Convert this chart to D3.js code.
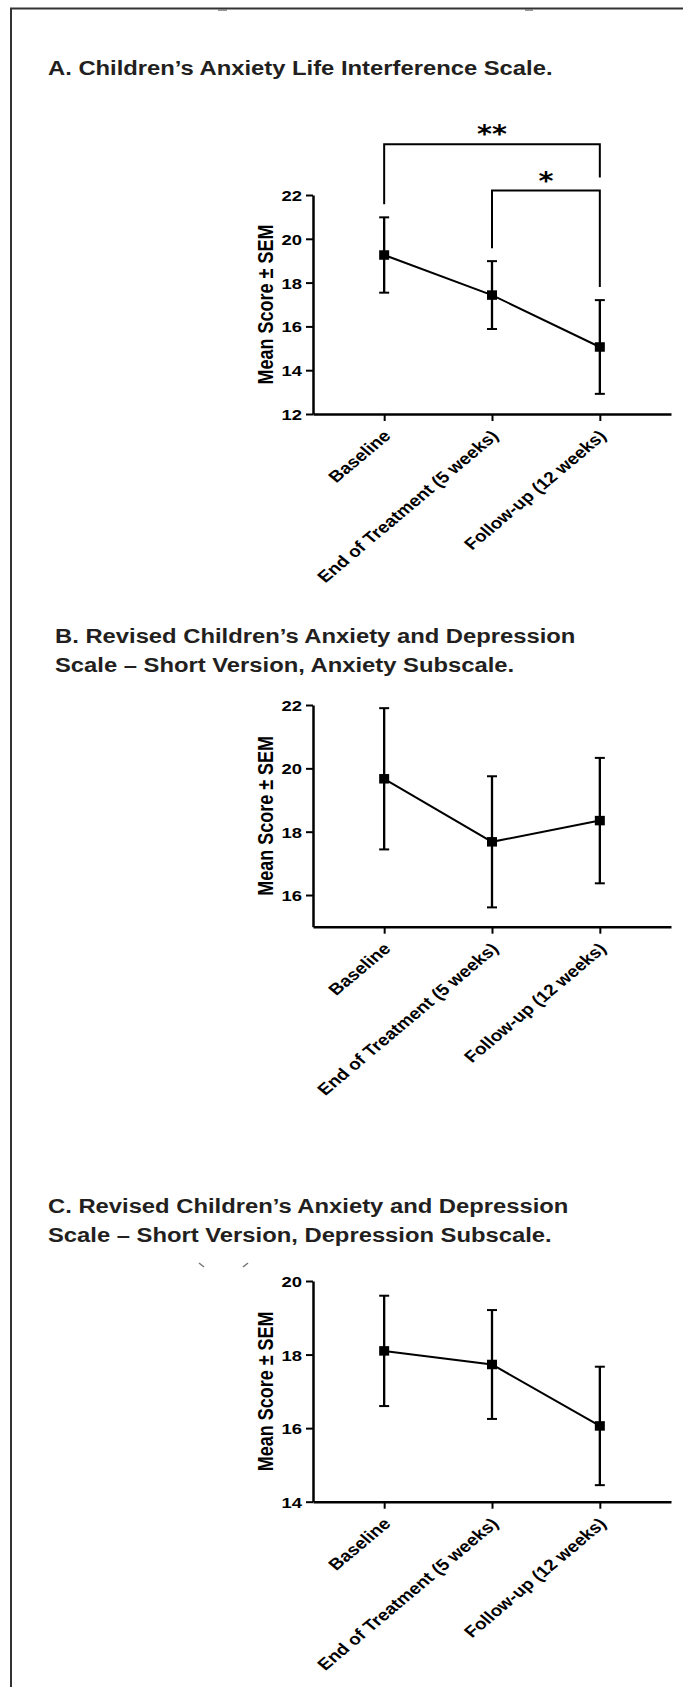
<!DOCTYPE html>
<html>
<head>
<meta charset="utf-8">
<script src="https://cdn.jsdelivr.net/npm/d3@7"></script>
<style>
body { margin: 0; background: #fff; }
svg { display: block; font-family: 'Liberation Sans', Arial, sans-serif; }
.title { font-size: 20px; font-weight: bold; fill: #231f20; }
.axis text { font-size: 15.5px; font-weight: bold; fill: #000; }
.axis .domain { stroke: #000; stroke-width: 2.5; }
.axis .tick line { stroke: #000; stroke-width: 2; }
.ylabel { font-size: 18px; font-weight: bold; fill: #000; }
.star { font-family: 'DejaVu Sans', sans-serif; font-size: 24px; font-weight: bold; fill: #000; }
</style>
</head>
<body>
<script>
// x categories, shared by the three panels
var categories = ['Baseline', 'End of Treatment (5 weeks)', 'Follow-up (12 weeks)']

// A. CALIS
var titleA = ['A. Children\u2019s Anxiety Life Interference Scale.']
var meanA = [19.26, 17.43, 15.06]
var semA = [1.72, 1.55, 2.14]
var ticksA = [12, 14, 16, 18, 20, 22]
var compA = [
	{from: 0, to: 2, level: 24.32, label: '**'},
	{from: 1, to: 2, level: 22.2, label: '*'}
]

// B. RCADS-SV anxiety
var titleB = ['B. Revised Children\u2019s Anxiety and Depression', 'Scale \u2013 Short Version, Anxiety Subscale.']
var meanB = [19.67, 17.68, 18.35]
var semB = [2.23, 2.07, 1.98]
var ticksB = [16, 18, 20, 22]

// C. RCADS-SV depression
var titleC = ['C. Revised Children\u2019s Anxiety and Depression', 'Scale \u2013 Short Version, Depression Subscale.']
var meanC = [18.1, 17.73, 16.06]
var semC = [1.5, 1.48, 1.61]
var ticksC = [14, 16, 18, 20]

var yLabel = 'Mean Score \u00b1 SEM'

// the scanned figure is stretched sideways, text too
var SX = 1.19

var svg = d3.select('body').append('svg')
	.attr('width', 683)
	.attr('height', 1687)

// frame of the page
svg.append('path')
	.attr('d', 'M11,1687V8.5H683')
	.attr('fill', 'none')
	.attr('stroke', '#333')
	.attr('stroke-width', 2)

// leftover bits of cropped text in the scan
svg.append('path')
	.attr('d', 'M218,10H227M525,10H533M199,1263L204,1267M248,1263L243,1267')
	.attr('stroke', '#777')
	.attr('stroke-width', 1.6)

var panels = [
	{title: titleA, titleX: 48, titleY: 75, mean: meanA, sem: semA, ticks: ticksA, domain: [12, 22], top: 195, bottom: 414, comps: compA},
	{title: titleB, titleX: 55, titleY: 642.5, mean: meanB, sem: semB, ticks: ticksB, domain: [15, 22], top: 705, bottom: 926.7, comps: []},
	{title: titleC, titleX: 48, titleY: 1213, mean: meanC, sem: semC, ticks: ticksC, domain: [14, 20], top: 1281, bottom: 1501.7, comps: []}
]

function drawPanel(p) {
	var g = svg.append('g')
	var x = d3.scalePoint()
		.domain(categories)
		.range([313, 671])
		.padding(0.66)
	var y = d3.scaleLinear()
		.domain(p.domain)
		.range([p.bottom, p.top])

	p.title.forEach(function(t, i) {
		g.append('text')
			.attr('class', 'title')
			.attr('transform', 'translate(' + p.titleX + ',' + (p.titleY + i * 29) + ') scale(' + SX + ',1)')
			.text(t)
	})

	var yAxis = g.append('g')
		.attr('class', 'axis')
		.attr('transform', 'translate(313,0)')
		.call(d3.axisLeft(y).tickValues(p.ticks).tickFormat(d3.format('d')).tickSize(7).tickSizeOuter(0))
	yAxis.selectAll('text')
		.attr('x', 0)
		.attr('dy', '0.36em')
		.attr('transform', 'translate(-11,0) scale(' + SX + ',1)')

	var xAxis = g.append('g')
		.attr('class', 'axis')
		.attr('transform', 'translate(0,' + p.bottom + ')')
		.call(d3.axisBottom(x).tickSize(7).tickSizeOuter(0))
	xAxis.selectAll('text')
		.attr('y', 0)
		.attr('dy', 0)
		.attr('text-anchor', 'end')
		.style('font-size', '16px')
		.attr('transform', 'translate(7,23) scale(' + SX + ',1) rotate(-45)')

	g.append('text')
		.attr('class', 'ylabel')
		.attr('text-anchor', 'middle')
		.attr('transform', 'translate(273,' + ((p.top + p.bottom) / 2) + ') scale(' + SX + ',1) rotate(-90)')
		.text(yLabel)

	// error bars
	var bars = g.selectAll('.err')
		.data(p.mean)
		.enter().append('g')
		.attr('class', 'err')
	bars.append('line')
		.attr('x1', function(d, i) { return x(categories[i]) })
		.attr('x2', function(d, i) { return x(categories[i]) })
		.attr('y1', function(d, i) { return y(d + p.sem[i]) })
		.attr('y2', function(d, i) { return y(d - p.sem[i]) })
		.attr('stroke', '#000')
		.attr('stroke-width', 2.3)
	bars.selectAll('.cap')
		.data(function(d, i) { return [{i: i, v: d + p.sem[i]}, {i: i, v: d - p.sem[i]}] })
		.enter().append('line')
		.attr('x1', function(d) { return x(categories[d.i]) - 5 })
		.attr('x2', function(d) { return x(categories[d.i]) + 5 })
		.attr('y1', function(d) { return y(d.v) })
		.attr('y2', function(d) { return y(d.v) })
		.attr('stroke', '#000')
		.attr('stroke-width', 2)

	var line = d3.line()
		.x(function(d, i) { return x(categories[i]) })
		.y(function(d) { return y(d) })
	g.append('path')
		.datum(p.mean)
		.attr('d', line)
		.attr('fill', 'none')
		.attr('stroke', '#000')
		.attr('stroke-width', 2)

	g.selectAll('.dot')
		.data(p.mean)
		.enter().append('rect')
		.attr('class', 'dot')
		.attr('x', function(d, i) { return x(categories[i]) - 5 })
		.attr('y', function(d) { return y(d) - 4.75 })
		.attr('width', 10)
		.attr('height', 9.5)
		.attr('fill', '#000')

	// significance brackets, legs stop 13px above whatever sits under them
	function legEnd(c, comp) {
		var base = p.mean[c] + p.sem[c]
		p.comps.forEach(function(o) {
			if (o !== comp && o.level < comp.level && o.from <= c && o.to >= c) base = Math.max(base, o.level)
		})
		return y(base) - 13
	}
	p.comps.forEach(function(c) {
		var x1 = x(categories[c.from]), x2 = x(categories[c.to])
		g.append('path')
			.attr('d', 'M' + x1 + ',' + legEnd(c.from, c) + 'V' + y(c.level) + 'H' + x2 + 'V' + legEnd(c.to, c))
			.attr('fill', 'none')
			.attr('stroke', '#000')
			.attr('stroke-width', 2)
		g.append('text')
			.attr('class', 'star')
			.attr('text-anchor', 'middle')
			.attr('transform', 'translate(' + ((x1 + x2) / 2) + ',' + (y(c.level) - 2) + ') scale(' + SX + ',1)')
			.text(c.label)
	})
}

panels.forEach(drawPanel)
</script>
</body>
</html>
